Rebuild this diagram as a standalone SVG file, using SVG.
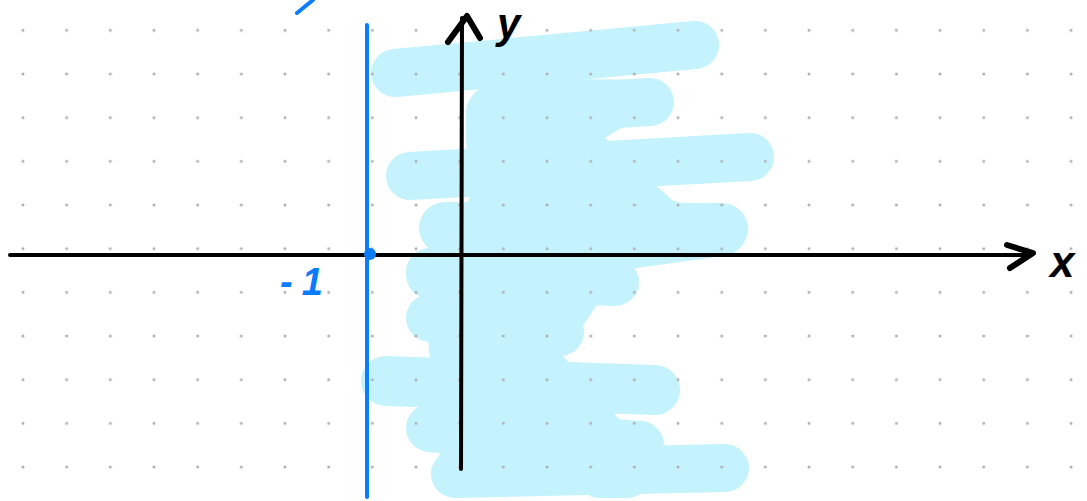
<svg xmlns="http://www.w3.org/2000/svg" width="1087" height="501" viewBox="0 0 1087 501">
  <defs>
    <pattern id="dots" patternUnits="userSpaceOnUse" x="1.17" y="8.47" width="43.67" height="43.67">
      <circle cx="21.83" cy="21.83" r="1.5" fill="#b0b0b0"/>
    </pattern>
  </defs>
  <style>
    .shade { fill: none; stroke: #c4f3fd; stroke-width: 48; stroke-linecap: round; stroke-linejoin: round; }
    .ax { fill: none; stroke: #000; stroke-width: 4; stroke-linecap: round; stroke-linejoin: round; }
    .head { fill: none; stroke: #000; stroke-width: 6; stroke-linecap: round; stroke-linejoin: round; }
    .blue { fill: none; stroke: #0b7cff; stroke-width: 4; stroke-linecap: round; }
    .lbl { font-family: "Liberation Sans", Arial, sans-serif; font-weight: bold; font-style: italic; }
  </style>
  <rect width="1087" height="501" fill="#ffffff"/>

  <g id="shading">
    <polygon fill="#c4f3fd" points="498,78 653,80 650,110 605,138 672,200 700,210 640,262 600,300 563,356 620,420 640,460 440,470 440,460 428,340 420,295 440,250 470,197 466,140 466,110 475,92"/>
    <path class="shade" d="M395,73 L695,45"/>
    <path class="shade" d="M490,112 L650,102"/>
    <path class="shade" d="M410,176 L750,157"/>
    <path class="shade" d="M445,228 L722,229" style="stroke-width:52"/>
    <path class="shade" d="M722,232 L430,272"/>
    <path class="shade" d="M430,275 L615,282"/>
    <path class="shade" d="M430,318 L560,332"/>
    <path class="shade" d="M386,381 L655,390" style="stroke-width:50"/>
    <path class="shade" d="M430,428 L640,445"/>
    <path class="shade" d="M455,474 L725,468"/>
    <path class="shade" d="M600,474 L627,474"/>
  </g>

  <rect id="grid" width="1087" height="501" fill="url(#dots)"/>

  <g id="connectors">
    <path id="x-axis" class="ax" d="M10,255 L1030,255"/>
    <path class="head" d="M1007,245 L1033,253 L1010,268"/>
    <path id="y-axis" class="ax" d="M461,469 L462,18"/>
    <path class="head" d="M448,42 L467,16 L480,38"/>
  </g>

  <g id="line-x-minus-1">
    <path class="blue" d="M367,25 L367,497"/>
    <path class="blue" d="M297,13 L313,0"/>
    <circle cx="370" cy="254" r="6" fill="#0b7cff"/>
  </g>

  <g id="labels">
    <text class="lbl" x="497" y="38" font-size="42" fill="#000">y</text>
    <text class="lbl" x="1050" y="277" font-size="44" fill="#000">x</text>
    <text class="lbl" x="280" y="295" font-size="38" letter-spacing="9" fill="#0b7cff">-1</text>
  </g>
</svg>
